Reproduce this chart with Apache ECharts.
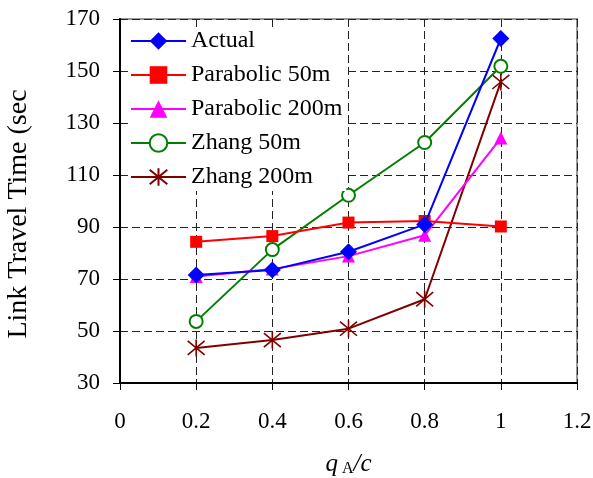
<!DOCTYPE html>
<html><head><meta charset="utf-8">
<script src="https://cdn.jsdelivr.net/npm/echarts@6/dist/echarts.min.js"></script>
<style>html,body{margin:0;padding:0;background:#fff}#c{width:593px;height:478px}</style>
</head><body><div id="c"></div>
<script>
var xValues = [0.2, 0.4, 0.6, 0.8, 1.0];
var seriesNames = ['Actual', 'Parabolic 50m', 'Parabolic 200m', 'Zhang 50m', 'Zhang 200m'];
var actual = [71.5, 73.5, 80.5, 91, 162.5];
var parabolic50 = [84.3, 86.5, 91.7, 92.3, 90.2];
var parabolic200 = [71, 73.8, 78.8, 86.8, 124.2];
var zhang50 = [53.7, 81.3, 102.2, 122.5, 151.8];
var zhang200 = [43.5, 46.5, 50.9, 62.2, 145.8];

var font = 'Liberation Serif';
function pairs(v){ return xValues.map(function(x,i){ return [x, v[i]]; }); }
var asterisk = 'path://M0,0L10,10M10,0L0,10M5,-1L5,11';
var defs = [
  {data: actual, color: '#0000FF', symbol: 'diamond', size: 17, fill: true},
  {data: parabolic50, color: '#FF0000', symbol: 'rect', size: 12, fill: true},
  {data: parabolic200, color: '#FF00FF', symbol: 'triangle', size: 13, fill: true},
  {data: zhang50, color: '#008000', symbol: 'circle', size: 13, fill: false},
  {data: zhang200, color: '#800000', symbol: asterisk, size: 17, fill: false, stroke: true}
];
var series = defs.map(function(d, i){
  var itemStyle;
  if (d.fill) itemStyle = {color: d.color};
  else if (d.stroke) itemStyle = {color: d.color, borderColor: d.color, borderWidth: 1.6};
  else itemStyle = {color: '#fff', borderColor: d.color, borderWidth: 2};
  return {
    name: seriesNames[i], type: 'line', data: pairs(d.data),
    symbol: d.symbol, symbolSize: d.size, showAllSymbol: true,
    lineStyle: {color: d.color, width: 2},
    itemStyle: itemStyle, z: 2 + (4 - i), animation: false
  };
});
var chart = echarts.init(document.getElementById('c'));
chart.setOption({
  backgroundColor: '#fff',
  animation: false,
  grid: {left: 120, right: 16, top: 19, bottom: 95, containLabel: false, outerBoundsMode: 'none',
         show: true, borderColor: '#999', borderWidth: 2, backgroundColor: 'transparent'},
  legend: {
    data: seriesNames, orient: 'vertical', left: 130, top: 27,
    itemWidth: 55, itemHeight: 22, itemGap: 10,
    backgroundColor: '#fff', padding: [2, 4, 2, 0],
    textStyle: {fontFamily: font, fontSize: 24, color: '#000'}
  },
  xAxis: {
    type: 'value', min: 0, max: 1.2, interval: 0.2,
    axisLine: {lineStyle: {color: '#000', width: 2}},
    axisTick: {show: true, inside: false, length: 7, lineStyle: {color: '#000', width: 1}},
    axisLabel: {fontFamily: font, fontSize: 23, color: '#000', margin: 27},
    splitLine: {show: true, lineStyle: {color: '#222', type: [8, 4], width: 1}},
    name: '{i|q}{s| A}{i|/c}', nameLocation: 'middle', nameGap: 69,
    nameTextStyle: {rich: {
      i: {fontFamily: font, fontStyle: 'italic', fontSize: 25, color: '#000'},
      s: {fontFamily: font, fontSize: 16, color: '#000', verticalAlign: 'bottom', padding: [9, 0, 0, 0]}
    }}
  },
  yAxis: {
    type: 'value', min: 30, max: 170, interval: 20,
    axisLine: {show: true, lineStyle: {color: '#000', width: 2}},
    axisTick: {show: true, length: 7, lineStyle: {color: '#000', width: 1}},
    axisLabel: {fontFamily: font, fontSize: 23, color: '#000', margin: 20},
    splitLine: {show: true, lineStyle: {color: '#222', type: [8, 4], width: 1}},
    name: 'Link Travel Time (sec', nameLocation: 'middle', nameGap: 87,
    nameTextStyle: {fontFamily: font, fontSize: 28, color: '#000', padding: [0, 26, 0, 0]}
  },
  series: series
});
</script></body></html>
